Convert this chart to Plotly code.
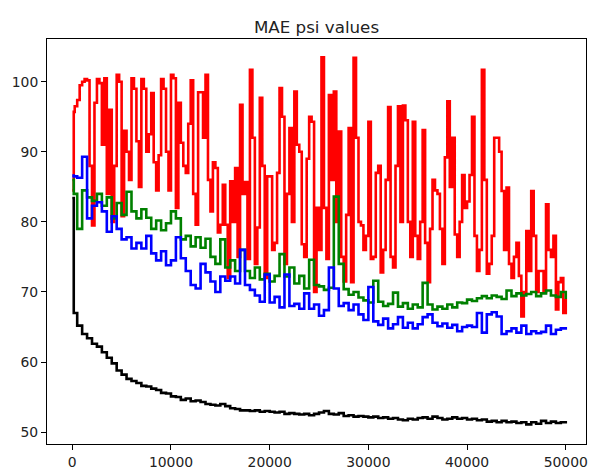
import plotly.graph_objects as go

# iteration steps (x values)
STEPS = [0, 150] + list(range(500, 50001, 500))
RED_STEPS = [0, 150] + list(range(250, 50001, 250))

RED = [84.5, 95.7, 96.5,
       97.4, 99.5, 100.0, 100.4, 100.2, 88.0, 79.5, 97.0, 100.4, 99.8,
       91.0, 100.5, 84.0, 96.0, 80.0, 88.0, 101.0, 100.0, 80.8, 93.0,
       90.0, 86.0, 100.5, 99.0, 91.5, 85.0, 100.4, 99.0, 90.0, 92.5,
       98.4, 88.5, 84.5, 89.5, 100.4, 99.0, 90.0, 84.5, 101.0, 100.5,
       82.0, 97.0, 91.3, 88.0, 87.0, 94.0, 100.2, 84.0, 79.6, 98.5,
       98.5, 92.0, 101.0, 86.0, 81.5, 88.5, 87.7, 78.5, 79.6, 85.3,
       79.6, 72.0, 85.8, 80.0, 87.7, 75.0, 96.7, 84.0, 85.7, 74.7,
       101.7, 92.0, 74.0, 79.2, 97.7, 88.0, 72.0, 86.5, 86.5, 76.0,
       77.0, 87.0, 99.1, 95.0, 74.0, 84.0, 93.4, 80.0, 98.6, 91.0,
       90.0, 76.8, 75.0, 89.0, 95.0, 94.3, 70.0, 82.0, 76.0, 103.5,
       82.0, 74.7, 98.1, 86.0, 98.6, 80.0, 92.9, 75.0, 71.5, 81.0,
       93.4, 71.4, 103.4, 92.0, 80.0, 79.5, 76.0, 78.0, 94.3, 74.7,
       75.0, 87.0, 88.0, 72.8, 76.0, 86.0, 96.4, 75.0, 73.5, 88.0,
       96.5, 80.0, 96.6, 94.5, 80.0, 75.0, 94.3, 78.0, 74.7, 80.0,
       93.1, 77.0, 71.4, 79.0, 86.0, 84.5, 84.0, 79.0, 74.0, 89.2,
       97.2, 85.0, 92.0, 78.2, 75.0, 80.0, 86.7, 82.0, 82.9, 86.7,
       95.0, 78.0, 73.0, 76.0, 101.7, 86.0, 72.6, 74.0, 78.0, 92.0,
       92.0, 90.0, 84.4, 76.0, 84.9, 74.0, 72.0, 75.0, 77.0, 72.3,
       66.5, 70.0, 78.7, 73.0, 84.4, 78.0, 70.0, 73.0, 73.0, 70.0,
       82.5, 76.0, 75.0, 78.0, 67.5, 71.4, 72.0, 67.0,
       69.0]

GREEN = [86.0, 84.0,
         79.0, 84.5, 83.5, 83.0, 84.0, 82.3, 83.5, 80.5, 82.7, 81.0,
         84.3, 81.5, 80.5, 81.8, 80.6, 79.0, 80.2, 78.8, 79.8, 81.5,
         80.5, 77.5, 78.0, 76.5, 77.8, 76.3, 77.6, 75.0, 74.0, 77.5,
         73.5, 74.5, 73.0, 76.0, 73.0, 72.0, 73.5, 71.8, 72.6, 71.5,
         72.3, 75.4, 72.2, 73.5, 71.2, 72.3, 70.5, 74.6, 71.0, 70.8,
         70.3, 70.6, 83.6, 74.0, 70.4, 69.6, 70.0, 69.2, 68.8, 68.5,
         71.6, 68.6, 68.0, 68.3, 69.9, 67.9, 68.4, 67.6, 68.2, 67.8,
         71.3, 68.2, 67.5, 67.9, 67.6, 68.2, 67.8, 68.5, 68.4, 68.9,
         68.7, 69.1, 69.4, 69.1, 69.5, 69.3, 69.0, 70.2, 69.4, 69.8,
         69.5, 69.7, 70.0, 69.4, 69.8, 70.2, 69.5, 69.3, 70.0, 69.0]

BLUE = [86.6, 86.5,
        86.3, 89.3, 80.5, 82.3, 82.8, 81.5, 78.6, 80.8, 79.0, 77.5,
        77.8, 76.2, 77.0, 76.2, 78.0, 75.5, 74.5, 75.8, 73.8, 74.5,
        77.8, 74.8, 73.0, 71.0, 70.5, 74.0, 72.8, 71.5, 70.0, 72.2,
        71.6, 72.2, 71.2, 76.0, 71.0, 70.3, 69.5, 68.6, 72.5, 68.5,
        69.3, 67.8, 72.5, 68.0, 68.3, 67.6, 69.8, 67.6, 68.2, 66.6,
        67.4, 73.5, 70.5, 68.0, 68.4, 67.4, 68.2, 66.8, 66.0, 70.7,
        65.8, 65.3, 66.2, 64.8, 65.4, 66.4, 64.9, 65.6, 64.8, 65.4,
        66.4, 66.8, 65.6, 65.1, 65.5, 64.9, 65.3, 64.4, 65.0, 65.2,
        65.0, 67.0, 64.2, 66.8, 67.1, 66.5, 64.0, 64.4, 64.8, 64.2,
        65.2, 64.0, 64.4, 64.1, 64.3, 65.2, 64.0, 64.6, 64.8, 65.0]

BLACK = [83.4, 67.0,
         65.2, 64.0, 63.4, 62.6, 62.2, 61.4, 60.6, 59.8, 58.8, 58.2,
         57.6, 57.3, 57.0, 56.6, 56.5, 56.2, 56.0, 55.6, 55.5, 55.1,
         55.0, 54.6, 54.8, 54.4, 54.5, 54.3, 54.0, 53.9, 53.8, 54.0,
         53.7, 53.4, 53.3, 53.1, 53.1, 53.0, 53.1, 52.9, 53.0, 52.9,
         52.8, 52.9, 52.6, 52.7, 52.6, 52.5, 52.6, 52.4, 52.6, 52.8,
         53.0, 52.6, 52.5, 52.7, 52.3, 52.4, 52.2, 52.3, 52.2, 52.1,
         52.2, 52.0, 52.1, 51.9, 52.0, 51.8, 51.7, 51.9, 51.8, 52.0,
         52.1, 51.9, 52.2, 52.0, 51.8, 51.9, 52.1, 51.9, 52.0, 51.8,
         51.9, 51.7, 51.8, 51.5, 51.6, 51.4, 51.6, 51.4, 51.5, 51.3,
         51.4, 51.1, 51.4, 51.2, 51.6, 51.3, 51.5, 51.3, 51.4, 51.6]

X_TICKS = [0, 10000, 20000, 30000, 40000, 50000]
Y_TICKS = [50, 60, 70, 80, 90, 100]
TITLE = "MAE psi values"

series = [(RED_STEPS, RED, "#ff0000"), (STEPS, GREEN, "#008000"),
          (STEPS, BLUE, "#0000ff"), (STEPS, BLACK, "#000000")]

fig = go.Figure()
for xs, vals, col in series:
    fig.add_trace(go.Scatter(x=xs, y=vals, mode="lines",
                             line=dict(color=col, width=2.6, shape="hv"),
                             showlegend=False, hoverinfo="skip"))

font = dict(family="DejaVu Sans", size=13.9, color="#222222")
axis_common = dict(showgrid=False, zeroline=False, showline=True, linecolor="#000000",
                   linewidth=1, mirror=True, ticks="outside", ticklen=5, tickwidth=1,
                   tickcolor="#000000", tickfont=font)

fig.update_layout(
    width=592, height=474,
    margin=dict(l=47, r=4, t=39, b=28, pad=0),
    paper_bgcolor="white", plot_bgcolor="white",
    title=dict(text=TITLE, x=0.5, xref="paper", xanchor="center",
               y=1, yref="paper", yanchor="bottom", pad=dict(b=6),
               font=dict(family="DejaVu Sans", size=16.7, color="#222222")),
    xaxis=dict(range=[-2560, 52050], tickvals=X_TICKS,
               ticktext=[str(v) for v in X_TICKS], **axis_common),
    yaxis=dict(range=[48.3, 106.1], tickvals=Y_TICKS,
               ticktext=[str(v) for v in Y_TICKS], **axis_common),
)

fig.write_html("out.html")
